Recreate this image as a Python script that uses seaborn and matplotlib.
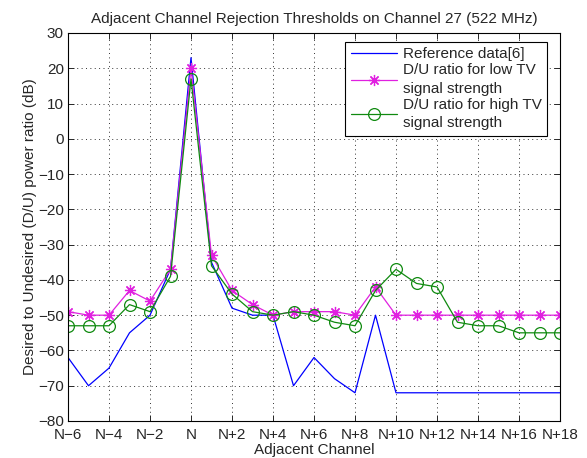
import numpy as np
import pandas as pd
import matplotlib
matplotlib.use("Agg")
import matplotlib.pyplot as plt
import seaborn as sns

channels = list(range(-6, 19))
reference = [-62, -70, -65, -55, -50, -37, 23, -35, -48, -50, -50, -70, -62, -68, -72, -50,
             -72, -72, -72, -72, -72, -72, -72, -72, -72]
low_tv = [-49, -50, -50, -43, -46, -37, 20, -33, -43, -47, -50, -49, -49, -49, -50, -42,
          -50, -50, -50, -50, -50, -50, -50, -50, -50]
high_tv = [-53, -53, -53, -47, -49, -39, 17, -36, -44, -49, -50, -49, -50, -52, -53, -43,
           -37, -41, -42, -52, -53, -53, -55, -55, -55]
tick_pos = list(range(-6, 19, 2))
tick_labels = ["N\u22126", "N\u22124", "N\u22122", "N", "N+2", "N+4", "N+6", "N+8",
               "N+10", "N+12", "N+14", "N+16", "N+18"]
labels = ["Reference data[6]", "D/U ratio for low TV\nsignal strength",
          "D/U ratio for high TV\nsignal strength"]

sns.set_style("ticks")
plt.rcParams['font.family'] = ['Liberation Sans', 'DejaVu Sans']
plt.rcParams['font.size'] = 10

fig = plt.figure(figsize=(5.87, 4.58), dpi=100)
ax = fig.add_axes([68/587, 1-421/458, (560-68)/587, (421-33)/458])

sns.lineplot(x=channels, y=reference, ax=ax, color='#0000ff', linewidth=0.9, label=labels[0])
sns.lineplot(x=channels, y=low_tv, ax=ax, color='#e020e0', linewidth=0.9, marker=(8, 2, 0),
             markersize=8, markeredgecolor='#e020e0', markeredgewidth=0.9, label=labels[1])
sns.lineplot(x=channels, y=high_tv, ax=ax, color='#108a10', linewidth=0.9, marker='o',
             markersize=8.5, markerfacecolor='none', markeredgecolor='#108a10',
             markeredgewidth=0.9, label=labels[2])

ax.set_xlim(-6, 18)
ax.set_ylim(-80, 30)
ax.set_xticks(tick_pos)
ax.set_xticklabels(tick_labels)
ax.set_yticks(range(-80, 31, 10))
ax.tick_params(direction='in', top=True, right=True, labelsize=11, length=4, width=0.7, pad=3)
ax.tick_params(axis='x', pad=5)
ax.grid(True, linestyle=(0, (1, 3.5)), color='#333333', linewidth=0.7)
for s in ax.spines.values():
    s.set_linewidth(0.8)
    s.set_color('black')
ax.set_title("Adjacent Channel Rejection Thresholds on Channel 27 (522 MHz)", fontsize=11, pad=7)
ax.set_xlabel("Adjacent Channel", fontsize=11, labelpad=1)
ax.set_ylabel("Desired to Undesired (D/U) power ratio (dB)", fontsize=11, labelpad=1)

leg = ax.legend(loc='upper right', bbox_to_anchor=(0.9735, 0.978), fontsize=11, frameon=True,
                fancybox=False, edgecolor='black', framealpha=1, borderpad=0.35,
                labelspacing=0.15, handlelength=3.0, handletextpad=0.4, borderaxespad=0)
for t in leg.get_texts():
    t.set_linespacing(1.4)
leg.get_frame().set_linewidth(0.8)

fig.savefig("out.png", dpi=100)
